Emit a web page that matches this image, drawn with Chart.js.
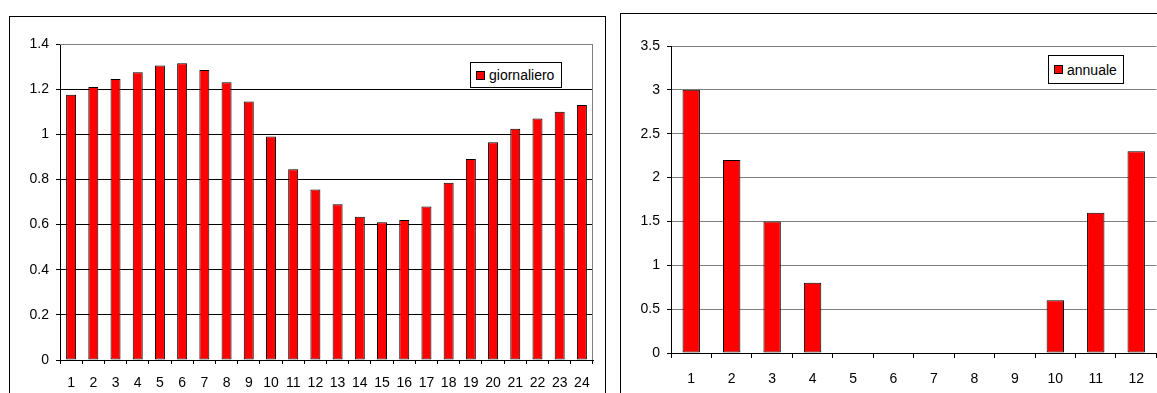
<!DOCTYPE html>
<html>
<head>
<meta charset="utf-8">
<script src="https://cdn.jsdelivr.net/npm/chart.js@4/dist/chart.umd.min.js"></script>
<style>
html,body{margin:0;padding:0;background:#fff;overflow:hidden;width:1157px;height:393px}
.box{position:absolute;border:1px solid #000;background:#fff}
#boxDay{left:9px;top:16px;width:595px;height:400px}
#boxYear{left:620px;top:13px;width:560px;height:400px}
canvas{position:absolute;left:0;top:0}
.legend{position:absolute;box-sizing:border-box;border:1px solid #000;background:#fff;
  font:14px "Liberation Sans",Arial,sans-serif;color:#000;display:flex;align-items:center;
  padding-left:5px;white-space:nowrap}
.legend i{display:inline-block;box-sizing:border-box;width:9px;height:9px;background:#f00;border:1px solid #000;margin-right:4px}
#legDay{left:460px;top:45px;width:92px;height:26px}
#legYear{left:427px;top:41px;width:76px;height:29px}
</style>
</head>
<body>
<div class="box" id="boxDay">
  <canvas id="dayChart" width="594" height="376"></canvas>
  <div class="legend" id="legDay"><i></i><span id="legDayText"></span></div>
</div>
<div class="box" id="boxYear">
  <canvas id="yearChart" width="536" height="379"></canvas>
  <div class="legend" id="legYear"><i></i><span id="legYearText"></span></div>
</div>
<script>
// data
const hours = ['1','2','3','4','5','6','7','8','9','10','11','12','13','14','15','16','17','18','19','20','21','22','23','24'];
const dailyValues = [1.175, 1.21, 1.245, 1.275, 1.305, 1.315, 1.285, 1.23, 1.145, 0.99, 0.845, 0.755,
                     0.69, 0.635, 0.61, 0.62, 0.68, 0.785, 0.89, 0.965, 1.025, 1.07, 1.1, 1.13];
const dailyName = 'giornaliero';

const months = ['1','2','3','4','5','6','7','8','9','10','11','12'];
const annualValues = [3, 2.2, 1.5, 0.8, 0, 0, 0, 0, 0, 0.6, 1.6, 2.3];
const annualName = 'annuale';

Chart.defaults.font.family = "'Liberation Sans', Arial, sans-serif";
Chart.defaults.font.size = 14;
Chart.defaults.color = '#000';

// gray frame on top/right of the plot area (left chart only)
const plotFrame = {
  id: 'plotFrame',
  beforeDatasetsDraw(chart) {
    const a = chart.chartArea, ctx = chart.ctx;
    ctx.save();
    ctx.strokeStyle = '#808080';
    ctx.lineWidth = 1;
    ctx.beginPath();
    ctx.moveTo(a.left, a.top + 0.5);
    ctx.lineTo(a.right - 0.5, a.top + 0.5);
    ctx.lineTo(a.right - 0.5, a.bottom);
    ctx.stroke();
    ctx.restore();
  }
};

function makeChart(id, labels, values, name, opt) {
  return new Chart(document.getElementById(id), {
    type: 'bar',
    data: {
      labels: labels,
      datasets: [{
        label: name,
        data: values,
        backgroundColor: '#ff0000',
        borderColor: '#000',
        borderWidth: 1,
        borderSkipped: false,
        categoryPercentage: 1,
        barPercentage: opt.barPct
      }]
    },
    options: {
      responsive: false,
      animation: false,
      layout: { padding: opt.padding },
      plugins: { legend: { display: false }, tooltip: { enabled: false } },
      scales: {
        x: {
          grid: { drawOnChartArea: false, drawTicks: true, tickLength: opt.xTick, color: '#000', offset: true },
          border: { color: '#000', width: 1 },
          ticks: { autoSkip: false, maxRotation: 0, padding: opt.xPad },
          afterFit: s => { s.height = opt.xHeight; }
        },
        y: {
          min: 0, max: opt.max,
          grid: {
            color: c => (c.tick && c.tick.value === opt.max && opt.topGray) ? '#808080' : opt.gridColor,
            tickColor: '#000', tickLength: 4
          },
          border: { color: '#000', width: 1 },
          ticks: { stepSize: opt.step, padding: 7, callback: v => String(Number(v.toFixed(2))) },
          afterFit: s => { s.width = 50; }
        }
      }
    },
    plugins: opt.plugins || []
  });
}

makeChart('dayChart', hours, dailyValues, dailyName, {
  max: 1.4, step: 0.2, barPct: 0.45, gridColor: '#000', topGray: true,
  padding: { left: 0, top: 27, right: 11, bottom: 0 },
  xHeight: 33, xTick: 4, xPad: 11, plugins: [plotFrame]
});
makeChart('yearChart', months, annualValues, annualName, {
  max: 3.5, step: 0.5, barPct: 0.43, gridColor: '#808080', topGray: false,
  padding: { left: 0, top: 32, right: 0, bottom: 0 },
  xHeight: 40, xTick: 5, xPad: 13
});

document.getElementById('legDayText').textContent = dailyName;
document.getElementById('legYearText').textContent = annualName;
</script>
</body>
</html>
